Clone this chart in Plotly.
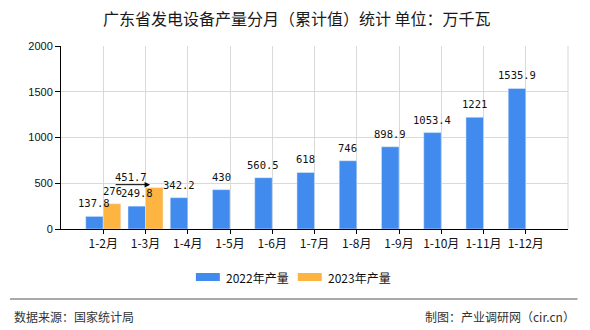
import plotly.graph_objects as go

categories = ["1-2月", "1-3月", "1-4月", "1-5月", "1-6月", "1-7月",
              "1-8月", "1-9月", "1-10月", "1-11月", "1-12月"]
v2022 = [137.8, 249.8, 342.2, 430, 560.5, 618, 746, 898.9, 1053.4, 1221, 1535.9]
v2023 = [276, 451.7]
series_names = ["2022年产量", "2023年产量"]
yticks = [0, 500, 1000, 1500, 2000]

BLUE = "#418BEE"
ORANGE = "#FDB441"
W, H = 590, 330
L, R, T, B = 61, 568.5, 46, 229  # plot area in pixels


def px(x):
    return (x - L) / (R - L)


def py(y):
    return (B - y) / (B - T)


fig = go.Figure()
fig.add_bar(x=categories, y=v2022, marker_color=BLUE, name=series_names[0])
fig.add_bar(x=categories[:len(v2023)], y=v2023, marker_color=ORANGE, name=series_names[1])


def fmt(v):
    return f"{v:g}"


LBL = dict(family="DejaVu Sans Mono", size=10.5, color="#111")
ann = []
for c, v in zip(categories, v2022):
    ann.append(dict(x=c, y=v, text=fmt(v), showarrow=False, xshift=-8.8, yshift=13,
                    font=LBL))
for i, v in enumerate(v2023):
    if i < len(v2023) - 1:
        ann.append(dict(x=categories[i], y=v, text=fmt(v), showarrow=False, xshift=8.8,
                        yshift=13, font=LBL))
    else:
        # callout label with arrow pointing to the bar top
        ann.append(dict(x=i + 0.11, y=v, text="", showarrow=True, ax=-36, ay=0,
                        arrowhead=2, arrowsize=1.1, arrowwidth=1, arrowcolor="#000",
                        yshift=3))
        ann.append(dict(x=categories[i], y=v, text=fmt(v), showarrow=False, xshift=-15,
                        yshift=11, font=LBL))

# title
ann.append(dict(xref="paper", yref="paper", x=px(297), y=py(18), text="广东省发电设备产量分月（累计值）统计 单位：万千瓦",
                showarrow=False, xanchor="center", yanchor="middle",
                font=dict(family="Noto Sans CJK SC", size=16, color="#1a1a1a")))
# legend
shapes = []
legend_items = [(196, BLUE, series_names[0]), (298, ORANGE, series_names[1])]
for x0, col, name in legend_items:
    shapes.append(dict(type="rect", xref="paper", yref="paper", x0=px(x0), x1=px(x0 + 24),
                       y0=py(281), y1=py(273), fillcolor=col, line=dict(width=0)))
    ann.append(dict(xref="paper", yref="paper", x=px(x0 + 28), y=py(277), text=name,
                    showarrow=False, xanchor="left", yanchor="middle",
                    font=dict(family="Noto Sans CJK SC", size=12, color="#111")))
# footer
shapes.append(dict(type="line", xref="paper", yref="paper", x0=px(10), x1=px(578),
                   y0=py(299), y1=py(299), line=dict(color="#8c8c8c", width=1.5)))
ann.append(dict(xref="paper", yref="paper", x=px(12), y=py(316), text="数据来源：国家统计局",
                showarrow=False, xanchor="left", yanchor="middle",
                font=dict(family="Noto Sans CJK SC", size=12, color="#333")))
ann.append(dict(xref="paper", yref="paper", x=px(578), y=py(316), text="制图：产业调研网（cir.cn）",
                showarrow=False, xanchor="right", yanchor="middle",
                font=dict(family="Noto Sans CJK SC", size=12, color="#333")))
# right border grid line
shapes.append(dict(type="line", xref="paper", yref="paper", x0=1, x1=1, y0=0, y1=1,
                   line=dict(color="#d9d9d9", width=1), layer="below"))

fig.update_layout(
    width=W, height=H,
    margin=dict(l=L, r=W - R, t=T, b=H - B, pad=0),
    paper_bgcolor="white", plot_bgcolor="white",
    barmode="group", bargap=0.17, bargroupgap=0,
    showlegend=False,
    annotations=ann, shapes=shapes,
    xaxis=dict(type="category", range=[-1, len(categories)], showgrid=True,
               gridcolor="#d9d9d9", gridwidth=1, showline=True, linecolor="#000",
               linewidth=1, ticks="outside", ticklen=4, tickcolor="#000",
               tickfont=dict(family="Noto Sans CJK SC", size=12, color="#111"),
               fixedrange=True),
    yaxis=dict(range=[0, 2000], tickvals=yticks, showgrid=True, gridcolor="#d9d9d9",
               gridwidth=1, zeroline=False, showline=True, linecolor="#000", linewidth=1,
               ticks="outside", ticklen=5, tickcolor="#000",
               tickfont=dict(family="Liberation Sans", size=11, color="#111"),
               fixedrange=True),
)

fig.write_html("out.html")
